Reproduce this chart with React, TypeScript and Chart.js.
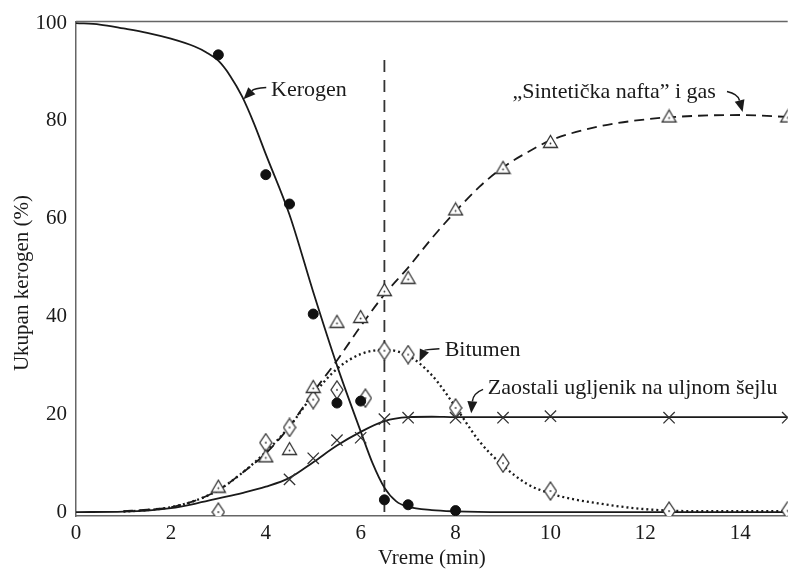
import React, { useEffect, useRef } from "react";
import { Chart, registerables } from "chart.js";
Chart.register(...registerables);

const xTicks = [0, 2, 4, 6, 8, 10, 12, 14];
const yTicks = [0, 20, 40, 60, 80, 100];

const xTitle = "Vreme (min)";
const yTitle = "Ukupan kerogen (%)";

const kerogenX = [3, 4, 4.5, 5, 5.5, 6, 6.5, 7, 8];
const kerogenY = [93.5, 69, 63, 40.5, 22.3, 22.7, 2.5, 1.5, 0.3];
const kerogenCurveX = [0, 0.5, 1, 1.5, 2, 2.5, 2.75, 3, 3.25, 3.5, 3.75, 4, 4.5, 5, 5.5, 6, 6.25, 6.5, 6.75, 7, 7.5, 8, 9, 15];
const kerogenCurveY = [100, 99.7, 98.9, 98, 96.8, 95.2, 94, 92.3, 89.2, 85, 79.5, 73.2, 60.8, 45, 30, 16.5, 10, 5, 2.2, 1.1, 0.4, 0.15, 0, 0];

const oilX = [3, 4, 4.5, 5, 5.5, 6, 6.5, 7, 8, 9, 10, 12.5, 15];
const oilY = [5.3, 11.5, 13, 25.7, 39, 40, 45.5, 48, 62, 70.5, 75.8, 81, 81];
const oilCurveX = [1, 1.5, 2, 2.5, 3, 3.5, 4, 4.5, 5, 5.5, 6, 6.5, 7, 7.5, 8, 8.5, 9, 9.5, 10, 11, 12, 13, 14, 15];
const oilCurveY = [0.2, 0.5, 1, 2.3, 4.5, 8, 12, 17.5, 24.5, 31, 38, 44.5, 50, 56, 61.5, 66.5, 70.5, 73.5, 76, 78.8, 80.3, 81, 81.2, 80.8];

const bitumenX = [3, 4, 4.5, 5, 5.5, 6.1, 6.5, 7, 8, 9, 10, 12.5, 15];
const bitumenY = [0, 14.2, 17.3, 23, 25, 23.3, 33, 32.2, 21.3, 10, 4.3, 0.2, 0.3];
const bitumenCurveX = [1, 1.5, 2, 2.5, 3, 3.5, 4, 4.5, 5, 5.5, 6, 6.5, 7, 7.5, 8, 8.5, 9, 9.5, 10, 10.5, 11, 11.5, 12, 12.5, 13, 14, 15];
const bitumenCurveY = [0.1, 0.4, 1, 2.3, 4.5, 8, 12.3, 17.5, 24, 29.3, 32.3, 33.2, 32, 28, 21.5, 14.5, 9.5, 5.8, 3.8, 2.6, 1.8, 1.1, 0.6, 0.3, 0.2, 0.2, 0.2];

const residueX = [4.5, 5, 5.5, 6, 6.5, 7, 8, 9, 10, 12.5, 15];
const residueY = [6.7, 11, 14.7, 15.2, 19, 19.3, 19.3, 19.3, 19.6, 19.3, 19.3];
const residueCurveX = [0, 1, 1.5, 2, 2.5, 3, 3.5, 4, 4.5, 5, 5.5, 6, 6.5, 7, 7.5, 8, 10, 12.5, 15];
const residueCurveY = [0, 0.1, 0.3, 0.8, 1.7, 2.8, 3.9, 5.2, 7, 10.2, 13.6, 16.4, 18.6, 19.4, 19.5, 19.4, 19.4, 19.4, 19.4];

const markerLineX = [6.5, 6.5];
const markerLineY = [0, 92.5];

const labelTexts = ["Kerogen", "\u201ESintetička nafta\u201D i gas", "Bitumen", "Zaostali ugljenik na uljnom šejlu"];

const SERIF = "'Liberation Serif', 'DejaVu Serif', serif";
const INK = "#1a1a1a";
const AXIS = "#666";

function pts(xs: number[], ys: number[]) {
  return xs.map((x, i) => ({ x, y: ys[i] }));
}

function makeTriangle() {
  const c = document.createElement("canvas");
  c.width = 17; c.height = 15;
  const g = c.getContext("2d")!;
  g.beginPath();
  g.moveTo(8.5, 1.5); g.lineTo(15.5, 13.5); g.lineTo(1.5, 13.5); g.closePath();
  g.fillStyle = "#fff"; g.fill();
  g.strokeStyle = "#333"; g.lineWidth = 1.3; g.stroke();
  g.beginPath(); g.arc(8.5, 9.5, 0.9, 0, Math.PI * 2); g.fillStyle = "#333"; g.fill();
  return c;
}

function makeDiamond() {
  const c = document.createElement("canvas");
  c.width = 14; c.height = 20;
  const g = c.getContext("2d")!;
  g.beginPath();
  g.moveTo(7, 1); g.lineTo(13, 10); g.lineTo(7, 19); g.lineTo(1, 10); g.closePath();
  g.fillStyle = "#fff"; g.fill();
  g.strokeStyle = "#333"; g.lineWidth = 1.3; g.stroke();
  g.beginPath(); g.arc(7, 10, 0.9, 0, Math.PI * 2); g.fillStyle = "#333"; g.fill();
  return c;
}

// annotation placements in data coordinates
const labelPos = [
  { x: 4.11, y: 86.2 },
  { x: 9.2, y: 85.8 },
  { x: 7.77, y: 33.2 },
  { x: 8.68, y: 25.3 },
];
const arrowPos = [
  { t: [4.01, 86.8], c: [3.75, 86.6], h: [3.53, 84.4] },
  { t: [13.72, 86.0], c: [13.95, 85.5], h: [14.05, 81.8] },
  { t: [7.66, 33.4], c: [7.35, 33.2], h: [7.24, 30.8] },
  { t: [8.58, 25.1], c: [8.37, 24.3], h: [8.33, 20.2] },
];

const annoPlugin = {
  id: "anno",
  afterDatasetsDraw(chart: any) {
    const { ctx, chartArea } = chart;
    const xs = chart.scales.x;
    const ys = chart.scales.y;
    ctx.save();
    ctx.strokeStyle = AXIS;
    ctx.lineWidth = 1.5;
    ctx.beginPath();
    ctx.moveTo(chartArea.left, chartArea.top);
    ctx.lineTo(chartArea.right, chartArea.top);
    ctx.stroke();

    ctx.font = `22px ${SERIF}`;
    ctx.fillStyle = INK;
    ctx.textBaseline = "middle";
    ctx.textAlign = "left";
    labelTexts.forEach((t, i) => {
      ctx.fillText(t, xs.getPixelForValue(labelPos[i].x), ys.getPixelForValue(labelPos[i].y));
    });

    ctx.strokeStyle = INK;
    ctx.lineWidth = 1.5;
    for (const a of arrowPos) {
      const tx = xs.getPixelForValue(a.t[0]), ty = ys.getPixelForValue(a.t[1]);
      const cx = xs.getPixelForValue(a.c[0]), cy = ys.getPixelForValue(a.c[1]);
      const hx = xs.getPixelForValue(a.h[0]), hy = ys.getPixelForValue(a.h[1]);
      const ang = Math.atan2(hy - cy, hx - cx);
      const L = 12, W = 5;
      const bx = hx - Math.cos(ang) * L, by = hy - Math.sin(ang) * L;
      ctx.beginPath();
      ctx.moveTo(tx, ty);
      ctx.quadraticCurveTo(cx, cy, bx, by);
      ctx.stroke();
      ctx.beginPath();
      ctx.moveTo(hx, hy);
      ctx.lineTo(bx + Math.sin(ang) * W, by - Math.cos(ang) * W);
      ctx.lineTo(bx - Math.sin(ang) * W, by + Math.cos(ang) * W);
      ctx.closePath();
      ctx.fillStyle = INK;
      ctx.fill();
    }

    ctx.font = `21px ${SERIF}`;
    ctx.translate(22, 283);
    ctx.rotate(-Math.PI / 2);
    ctx.textAlign = "center";
    ctx.fillStyle = INK;
    ctx.fillText(yTitle, 0, 0);
    ctx.restore();
  },
};

export default function App() {
  const ref = useRef<HTMLCanvasElement>(null);
  useEffect(() => {
    const canvas = ref.current!;
    const tri = makeTriangle();
    const dia = makeDiamond();
    const curveBase = { pointRadius: 0, borderColor: INK, borderWidth: 1.8, cubicInterpolationMode: "monotone" as const, fill: false, order: 2 };
    const chart = new Chart(canvas, {
      type: "line",
      data: {
        datasets: [
          { label: "kerogenPts", data: pts(kerogenX, kerogenY), showLine: false, pointStyle: "circle", pointRadius: 5, backgroundColor: "#111", borderColor: "#111", order: 0 },
          { label: "oilPts", data: pts(oilX, oilY), showLine: false, pointStyle: tri as any, order: 0 },
          { label: "bitumenPts", data: pts(bitumenX, bitumenY), showLine: false, pointStyle: dia as any, order: 0 },
          { label: "residuePts", data: pts(residueX, residueY), showLine: false, pointStyle: "crossRot", pointRadius: 8, borderColor: "#333", borderWidth: 1.3, order: 0 },
          { label: "kerogen", data: pts(kerogenCurveX, kerogenCurveY), ...curveBase },
          { label: "oil", data: pts(oilCurveX, oilCurveY), ...curveBase, borderDash: [10, 6] },
          { label: "bitumen", data: pts(bitumenCurveX, bitumenCurveY), ...curveBase, borderWidth: 2.3, borderDash: [2, 3] },
          { label: "residue", data: pts(residueCurveX, residueCurveY), ...curveBase },
          { label: "marker", data: pts(markerLineX, markerLineY), pointRadius: 0, borderColor: "#333", borderWidth: 1.8, borderDash: [12, 8], order: 3 },
        ] as any,
      },
      options: {
        responsive: false,
        animation: false,
        parsing: true,
        layout: { padding: { top: 17, right: 0, left: 0, bottom: 0 } },
        plugins: { legend: { display: false }, tooltip: { enabled: false } },
        scales: {
          x: {
            type: "linear",
            min: 0,
            max: 15,
            afterBuildTicks: (s: any) => { s.ticks = xTicks.map((v) => ({ value: v })); },
            afterFit: (s: any) => { s.height = 56; },
            grid: { display: false, drawTicks: false },
            border: { display: true, color: AXIS, width: 1.5 },
            ticks: { padding: 5, font: { family: SERIF, size: 21 }, color: INK, maxRotation: 0, autoSkip: false },
            title: { display: true, text: xTitle, font: { family: SERIF, size: 21 }, color: INK, padding: { top: 0, bottom: 1 } },
          },
          y: {
            type: "linear",
            min: -0.8,
            max: 100.3,
            afterBuildTicks: (s: any) => { s.ticks = yTicks.map((v) => ({ value: v })); },
            afterFit: (s: any) => { s.width = 76; },
            grid: { display: false, drawTicks: false },
            border: { display: true, color: AXIS, width: 1.5 },
            ticks: { padding: 9, font: { family: SERIF, size: 21 }, color: INK },
          },
        },
      } as any,
      plugins: [annoPlugin],
    });
    return () => chart.destroy();
  }, []);
  return (
    <div style={{ position: "absolute", left: 0, top: 0, width: 793, height: 572, overflow: "hidden", background: "#fff" }}>
      <canvas ref={ref} width={797} height={572} style={{ display: "block", width: 797, height: 572 }} />
    </div>
  );
}
